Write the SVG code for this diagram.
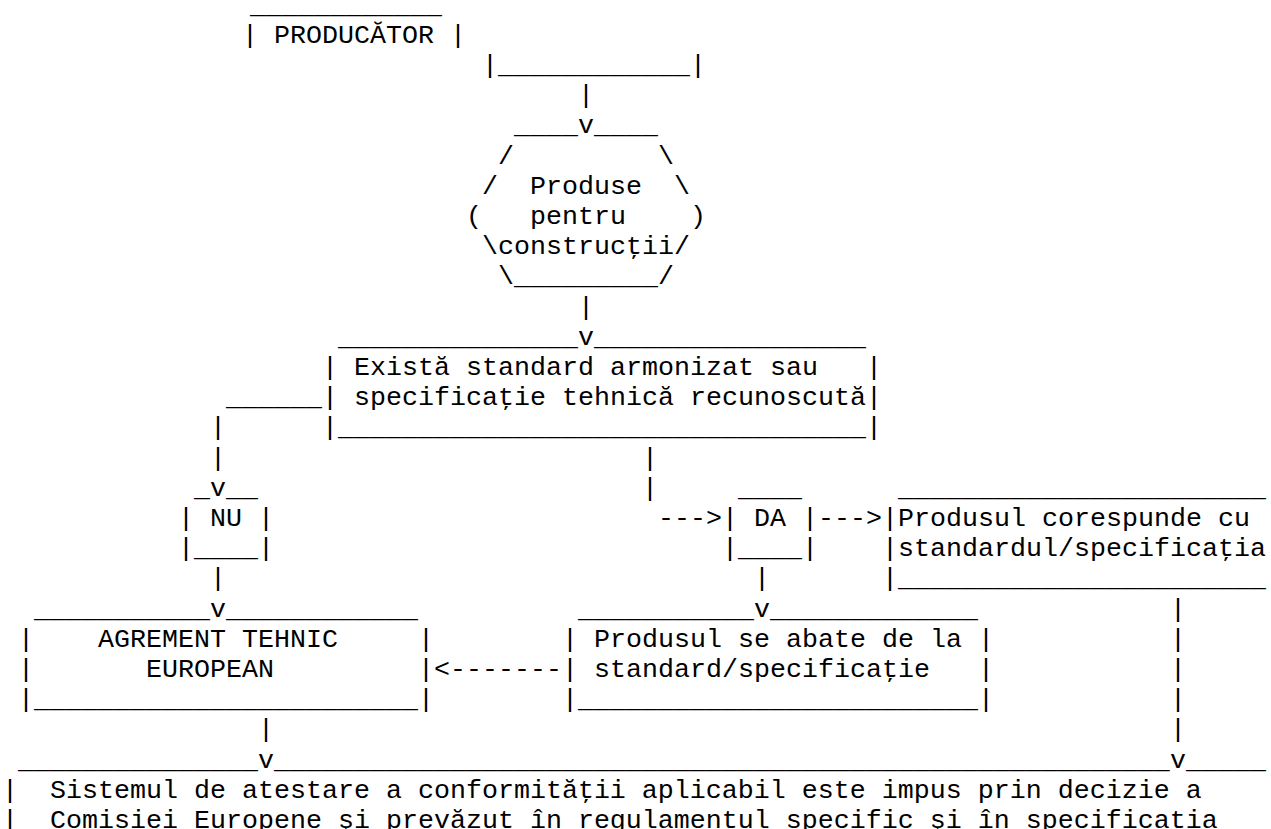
<svg xmlns="http://www.w3.org/2000/svg" width="1271" height="829" viewBox="0 0 1271 829">
<style>
text{font-family:"Liberation Mono","Courier New",monospace;font-size:26.66px;fill:#000;white-space:pre}
</style>
<rect width="1271" height="829" fill="#fff"/>
<g id="producator">
<text x="250" y="12.6">____________</text>
<text x="242" y="42.8">|</text><text x="274" y="42.8">PRODUCĂTOR</text><text x="450" y="42.8">|</text>
<text x="482" y="73">|</text><text x="498" y="73">____________</text><text x="690" y="73">|</text>
</g>
<g id="produse">
<text x="514" y="133.4">____</text><text x="594" y="133.4">____</text>
<text x="498" y="163.6">/</text><text x="658" y="163.6">\</text>
<text x="482" y="193.8">/</text><text x="530" y="193.8">Produse</text><text x="674" y="193.8">\</text>
<text x="466" y="224">(</text><text x="530" y="224">pentru</text><text x="690" y="224">)</text>
<text x="482" y="254.2">\</text><text x="498" y="254.2">construcţii</text><text x="674" y="254.2">/</text>
<text x="498" y="284.4">\</text><text x="514" y="284.4">_________</text><text x="658" y="284.4">/</text>
</g>
<g id="exista">
<text x="338" y="344.8">_______________</text><text x="594" y="344.8">_________________</text>
<text x="322" y="375">|</text><text x="354" y="375">Există standard armonizat sau</text><text x="866" y="375">|</text>
<text x="322" y="405.2">|</text><text x="354" y="405.2">specificaţie tehnică recunoscută</text><text x="866" y="405.2">|</text>
<text x="322" y="435.4">|</text><text x="338" y="435.4">_________________________________</text><text x="866" y="435.4">|</text>
</g>
<g id="nu">
<text x="194" y="495.8">_</text><text x="226" y="495.8">__</text>
<text x="178" y="526">|</text><text x="210" y="526">NU</text><text x="258" y="526">|</text>
<text x="178" y="556.2">|</text><text x="194" y="556.2">____</text><text x="258" y="556.2">|</text>
</g>
<g id="da">
<text x="738" y="495.8">____</text>
<text x="722" y="526">|</text><text x="754" y="526">DA</text><text x="802" y="526">|</text>
<text x="722" y="556.2">|</text><text x="738" y="556.2">____</text><text x="802" y="556.2">|</text>
</g>
<g id="corespunde">
<text x="898" y="495.8">_______________________</text>
<text x="882" y="526">|</text><text x="898" y="526">Produsul corespunde cu</text>
<text x="882" y="556.2">|</text><text x="898" y="556.2">standardul/specificaţia</text>
<text x="882" y="586.4">|</text><text x="898" y="586.4">_______________________</text>
</g>
<g id="agrement">
<text x="34" y="616.6">___________</text><text x="226" y="616.6">____________</text>
<text x="18" y="646.8">|</text><text x="98" y="646.8">AGREMENT TEHNIC</text><text x="418" y="646.8">|</text>
<text x="18" y="677">|</text><text x="146" y="677">EUROPEAN</text><text x="418" y="677">|</text>
<text x="18" y="707.2">|</text><text x="34" y="707.2">________________________</text><text x="418" y="707.2">|</text>
</g>
<g id="abate">
<text x="578" y="616.6">___________</text><text x="770" y="616.6">_____________</text>
<text x="562" y="646.8">|</text><text x="594" y="646.8">Produsul se abate de la</text><text x="978" y="646.8">|</text>
<text x="562" y="677">|</text><text x="594" y="677">standard/specificaţie</text><text x="978" y="677">|</text>
<text x="562" y="707.2">|</text><text x="578" y="707.2">_________________________</text><text x="978" y="707.2">|</text>
</g>
<g id="sistem">
<text x="18" y="767.6">_______________</text><text x="274" y="767.6">________________________________________________________</text><text x="1186" y="767.6">_____</text>
<text x="2" y="797.8">|</text><text x="50" y="797.8">Sistemul de atestare a conformităţii aplicabil este impus prin decizie a</text>
<text x="2" y="828">|</text><text x="50" y="828">Comisiei Europene şi prevăzut în regulamentul specific şi în specificaţia</text>
</g>
<g id="connectors">
<text x="578" y="103.2">|</text>
<text x="578" y="133.4">v</text>
<text x="578" y="314.6">|</text>
<text x="578" y="344.8">v</text>
<text x="226" y="405.2">______</text>
<text x="210" y="435.4">|</text>
<text x="210" y="465.6">|</text><text x="642" y="465.6">|</text>
<text x="210" y="495.8">v</text><text x="642" y="495.8">|</text>
<text x="658" y="526">---&gt;</text><text x="818" y="526">---&gt;</text>
<text x="210" y="586.4">|</text><text x="754" y="586.4">|</text>
<text x="210" y="616.6">v</text><text x="754" y="616.6">v</text><text x="1170" y="616.6">|</text>
<text x="1170" y="646.8">|</text>
<text x="434" y="677">&lt;-------</text><text x="1170" y="677">|</text>
<text x="1170" y="707.2">|</text>
<text x="258" y="737.4">|</text><text x="1170" y="737.4">|</text>
<text x="258" y="767.6">v</text><text x="1170" y="767.6">v</text>
</g>
</svg>
